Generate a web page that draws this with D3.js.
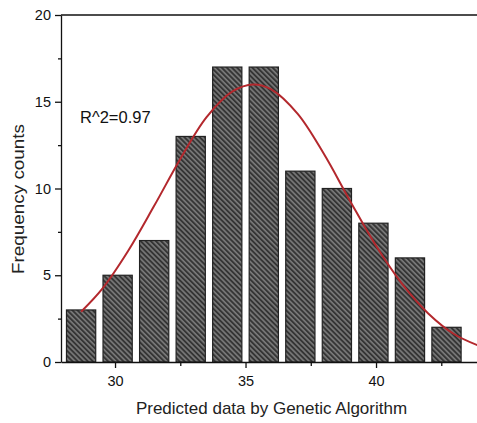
<!DOCTYPE html>
<html>
<head>
<meta charset="utf-8">
<script src="https://cdn.jsdelivr.net/npm/d3@7"></script>
<style>
  body { margin: 0; background: #fff; }
  svg { display: block; font-family: 'Liberation Sans', Arial, sans-serif; }
</style>
</head>
<body>
<div id="container"></div>
<script>
const w = 477
const h = 423

// histogram bins (bin centres) and counts
const binCenters = [28.7, 30.1, 31.5, 32.9, 34.3, 35.7, 37.1, 38.5, 39.9, 41.3, 42.7]
const counts = [3, 5, 7, 13, 17, 17, 11, 10, 8, 6, 2]
const barWidth = 1.12

// gaussian fit curve
const fitX = [28.7, 29.5, 30.5, 31.5, 32.5, 33.5, 34.5, 35.3, 36, 37, 38, 39, 40, 41, 42, 43, 44]
const fitY = [2.9, 4.2, 6.4, 9.0, 11.7, 14.1, 15.6, 16.0, 15.7, 14.3, 12.0, 9.3, 6.7, 4.5, 2.8, 1.6, 0.9]

const xMajor = [30, 35, 40]
const xMinor = [32.5, 37.5, 42.5]
const yMajor = [0, 5, 10, 15, 20]
const yMinor = [2.5, 7.5, 12.5, 17.5]

var svg = d3.select('div#container')
  .append('svg')
  .attr('width', w)
  .attr('height', h)

var x = d3.scaleLinear().domain([27.93, 44.3]).range([61, 61 + 26.1 * (44.3 - 27.93)])
var y = d3.scaleLinear().domain([0, 20]).range([362, 15])

// hatch pattern for the bars
var pat = svg.append('defs').append('pattern')
  .attr('id', 'hatch')
  .attr('patternUnits', 'userSpaceOnUse')
  .attr('width', 3.6)
  .attr('height', 3.6)
  .attr('patternTransform', 'rotate(-45)')
pat.append('rect').attr('width', 3.6).attr('height', 3.6).attr('fill', '#7a7a7a')
pat.append('line')
  .attr('x1', 1).attr('y1', 0).attr('x2', 1).attr('y2', 3.6)
  .attr('stroke', '#333').attr('stroke-width', 1.9)

svg.append('g')
  .selectAll('rect')
  .data(counts)
  .enter().append('rect')
  .attr('x', (d, i) => x(binCenters[i] - barWidth / 2))
  .attr('width', (d, i) => x(binCenters[i] + barWidth / 2) - x(binCenters[i] - barWidth / 2))
  .attr('y', d => y(d))
  .attr('height', d => y(0) - y(d))
  .attr('fill', 'url(#hatch)')
  .attr('stroke', '#222')
  .attr('stroke-width', 1.2)

var line = d3.line()
  .x((d, i) => x(fitX[i]))
  .y(d => y(d))
  .curve(d3.curveCatmullRom)

svg.append('path')
  .datum(fitY)
  .attr('d', line)
  .attr('fill', 'none')
  .attr('stroke', '#b3282d')
  .attr('stroke-width', 2)

// axes
var xAxis = svg.append('g')
  .attr('transform', 'translate(0,' + y(0) + ')')
  .call(d3.axisBottom(x).tickValues(xMajor).tickSize(6).tickSizeOuter(0).tickPadding(8).tickFormat(d3.format('d')))
xAxis.append('g')
  .call(d3.axisBottom(x).tickValues(xMinor).tickSize(4).tickFormat(''))
  .select('.domain').remove()

var yAxis = svg.append('g')
  .attr('transform', 'translate(' + x.range()[0] + ',0)')
  .call(d3.axisLeft(y).tickValues(yMajor).tickSize(6).tickSizeOuter(0).tickPadding(4))
yAxis.append('g')
  .call(d3.axisLeft(y).tickValues(yMinor).tickSize(3).tickFormat(''))
  .select('.domain').remove()

svg.selectAll('.domain, .tick line').attr('stroke', '#111').attr('stroke-width', 1.3)
svg.selectAll('.tick text').attr('fill', '#111').style('font-size', '14.5px').style('font-family', "'Liberation Sans', Arial, sans-serif")

// top frame line
svg.append('line')
  .attr('x1', x.range()[0]).attr('x2', w)
  .attr('y1', y(20)).attr('y2', y(20))
  .attr('stroke', '#111').attr('stroke-width', 1.5)

svg.append('text')
  .attr('x', 80)
  .attr('y', 123)
  .style('font-size', '16.5px')
  .attr('fill', '#111')
  .text('R^2=0.97')

svg.append('text')
  .attr('x', 271.5)
  .attr('y', 414)
  .style('text-anchor', 'middle')
  .style('font-size', '17px')
  .attr('fill', '#222')
  .text('Predicted data by Genetic Algorithm')

svg.append('text')
  .attr('transform', 'translate(24,199) rotate(-90)')
  .style('text-anchor', 'middle')
  .style('font-size', '16px')
  .attr('textLength', 150)
  .attr('lengthAdjust', 'spacingAndGlyphs')
  .attr('fill', '#222')
  .text('Frequency counts')
</script>
</body>
</html>
